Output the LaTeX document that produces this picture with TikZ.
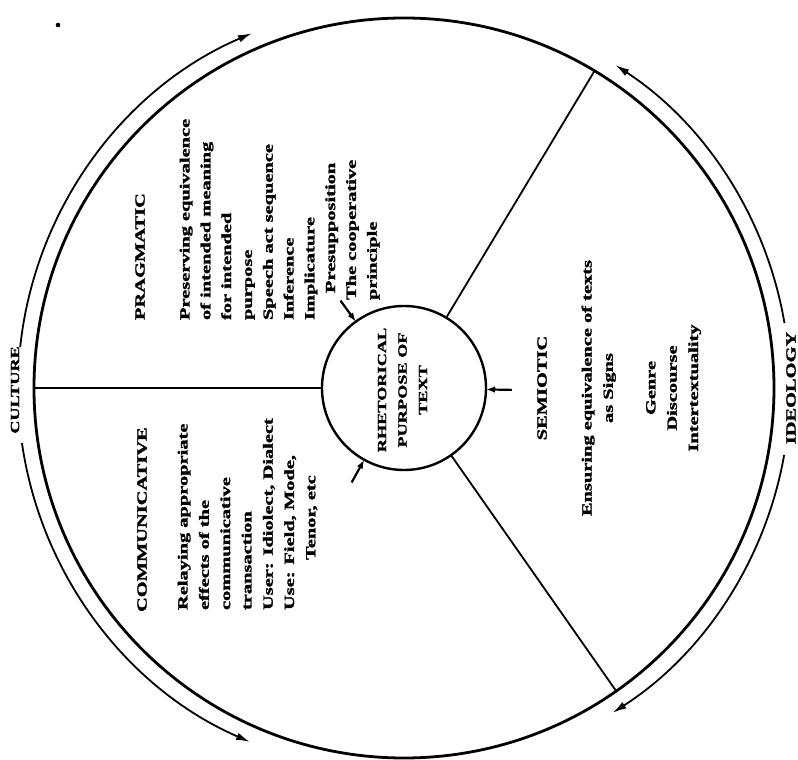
\documentclass[tikz,border=0pt]{standalone}
\usepackage{fontspec}
\usepackage{graphicx}
\setmainfont{Liberation Serif}
\newfontfamily\txtfont[UprightFont=* Bold, FakeBold=1.6]{Liberation Serif}
\newcommand\stx[1]{\scalebox{1.46}[1]{#1}}
\usetikzlibrary{arrows.meta,calc}
\begin{document}
\begin{tikzpicture}[x=1pt,y=1pt,
  txt/.style={font=\txtfont\fontsize{14}{21.3}\selectfont, inner sep=0pt, outer sep=0pt, rotate=90},
  colw/.style={txt, anchor=base west},
  colc/.style={txt, anchor=base},
  divider/.style={line width=1.8pt},
  flow/.style={line width=1.8pt, -{Latex[length=14pt,width=7.5pt]}},
  ptr/.style={line width=2.2pt, -{Latex[length=9pt,width=6.5pt]}}]
\useasboundingbox (-404,-372) rectangle (394,388);
% circles
\node[circle, draw, line width=2.8pt, minimum size=740pt, inner sep=0pt, outer sep=0pt] (outer) at (0,0) {};
\node[circle, draw, line width=2.4pt, minimum size=164pt, inner sep=0pt, outer sep=0pt] (hub) at (0,0) {};
% dividers
\draw[divider] (hub.180) -- (outer.180);
\draw[divider] (hub.59) -- (outer.59);
\draw[divider] (hub.305) -- (outer.305);
% outer flow arcs
\draw[flow] (173.9:386pt) arc[start angle=173.9, end angle=113.2, radius=386pt];
\draw[flow] (188.2:386pt) arc[start angle=188.2, end angle=246.5, radius=386pt];
\draw[flow] (9.7:386pt) arc[start angle=9.7, end angle=56.8, radius=386pt];
\draw[flow] (-10:386pt) arc[start angle=-10, end angle=-57.3, radius=386pt];
% outer labels
\node[txt, font=\txtfont\fontsize{12.5}{16}\selectfont, anchor=center] (culture) at (-389,-2) {\stx{CULTURE}};
\node[txt, font=\txtfont\fontsize{14}{16}\selectfont, anchor=center] (ideology) at (387,0) {\stx{IDEOLOGY}};
% hub text
\node[txt, font=\txtfont\fontsize{12.5}{20.5}\selectfont, align=center, anchor=center] (purpose) at (-1.5,-2) {\stx{RHETORICAL}\\\stx{PURPOSE OF}\\\stx{TEXT}};
% small arrows into hub
\coordinate (pa) at (126:108pt);
\coordinate (ca) at (241:108pt);
\coordinate (sa) at (359:108pt);
\draw[ptr] (pa) -- (hub.126);
\draw[ptr] (ca) -- (hub.241);
\draw[ptr] (sa) -- (hub.359);
% pragmatic block
\node[colw] (prag) at (-259.4,68) {\stx{PRAGMATIC}};
\node[colw] (p1) at (-214.5,68) {\stx{Preserving equivalence}};
\node[colw] (p2) at (-193.7,68) {\stx{of intended meaning}};
\node[colw] (p3) at (-172.9,68) {\stx{for intended}};
\node[colw] (p4) at (-152.1,68) {\stx{purpose}};
\node[colw] (p5) at (-131.3,68) {\stx{Speech act sequence}};
\node[colw] (p6) at (-110.5,68) {\stx{Inference}};
\node[colw] (p7) at (-89.7,68) {\stx{Implicature}};
\node[colw] (p8) at (-68.9,95) {\stx{Presupposition}};
\node[colw] (p9) at (-48.1,88) {\stx{The cooperative}};
\node[colw] (p10) at (-27.3,88) {\stx{principle}};
% communicative block
\node[colw] (comm) at (-257.4,-224) {\stx{COMMUNICATIVE}};
\node[colw] (c1) at (-216.5,-222) {\stx{Relaying appropriate}};
\node[colw] (c2) at (-195.2,-222) {\stx{effects of the}};
\node[colw] (c3) at (-173.9,-222) {\stx{communicative}};
\node[colw] (c4) at (-152.6,-222) {\stx{transaction}};
\node[colw] (c5) at (-131.3,-222) {\stx{User: Idiolect, Dialect}};
\node[colw] (c6) at (-110,-222) {\stx{Use: Field, Mode,}};
\node[colw] (c7) at (-88.7,-172) {\stx{Tenor, etc}};
% semiotic block
\node[colc] (semi) at (142.6,0) {\stx{SEMIOTIC}};
\node[colc] (s1) at (187.5,0) {\stx{Ensuring equivalence of texts}};
\node[colc] (s2) at (208.8,0) {\stx{as Signs}};
\node[colc] (s3) at (251.4,0) {\stx{Genre}};
\node[colc] (s4) at (272.7,0) {\stx{Discourse}};
\node[colc] (s5) at (294,0) {\stx{Intertextuality}};
% speck
\fill (-346,363) circle (2.3pt);
\end{tikzpicture}
\end{document}
